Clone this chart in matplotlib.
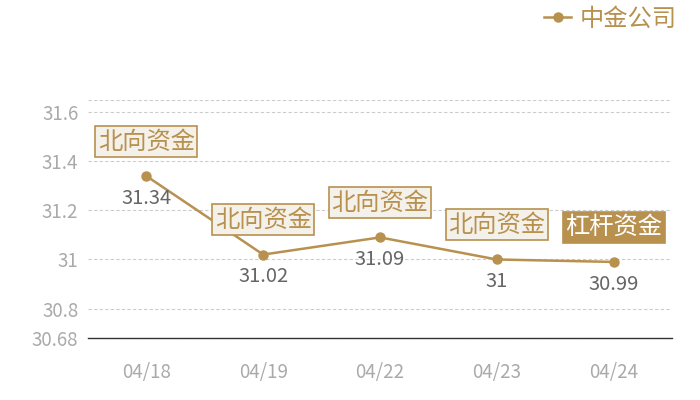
import matplotlib
matplotlib.use("Agg")
import matplotlib.pyplot as plt

plt.rcParams['font.family'] = ['Noto Sans CJK SC', 'DejaVu Sans']

dates = ["04/18", "04/19", "04/22", "04/23", "04/24"]
values = [31.34, 31.02, 31.09, 31.00, 30.99]
tags = ["北向资金", "北向资金", "北向资金", "北向资金", "杠杆资金"]
yticks = [30.68, 30.8, 31, 31.2, 31.4, 31.6]
ytick_labels = ["30.68", "30.8", "31", "31.2", "31.4", "31.6"]

gold = "#b8914f"

fig = plt.figure(figsize=(7, 4), dpi=100)
ax = fig.add_axes([88 / 700, 1 - 338 / 400, (672 - 88) / 700, (338 - 100) / 400])

x = range(len(dates))
ax.plot(x, values, color=gold, lw=1.8, marker="o", ms=6.5, label="中金公司", zorder=3)

for i, (v, t) in enumerate(zip(values, tags)):
    ax.annotate(f"{v:g}", (i, v), xytext=(0, -16), textcoords="offset points",
                ha="center", va="center", fontsize=14.5, color="#666666", zorder=4)
    if t == "杠杆资金":
        fc, tc, ec = gold, "white", gold
    else:
        fc, tc, ec = "#f4f0ea", gold, gold
    ax.annotate(t, (i, v), xytext=(0, 25), textcoords="offset points",
                ha="center", va="center", fontsize=17.5, color=tc, zorder=5,
                bbox=dict(boxstyle="square,pad=0.1", fc=fc, ec=ec, lw=1.2))

ax.set_xlim(-0.5, len(dates) - 0.5)
ax.set_ylim(30.68, 31.65)
ax.set_xticks(list(x))
ax.set_xticklabels(dates)
ax.set_yticks(yticks)
ax.set_yticklabels(ytick_labels)
ax.tick_params(axis="both", length=0, labelsize=13.5, labelcolor="#aaaaaa")
ax.tick_params(axis="x", pad=17)
ax.tick_params(axis="y", pad=7)

ax.grid(axis="y", color="#cccccc", ls=(0, (3, 2)), lw=0.8)
ax.axhline(31.65, color="#cccccc", ls=(0, (3, 2)), lw=0.8)
for s in ["top", "right", "left"]:
    ax.spines[s].set_visible(False)
ax.spines["bottom"].set_color("#333333")
ax.spines["bottom"].set_linewidth(1.0)

leg = fig.legend(loc="upper right", bbox_to_anchor=(0.998, 1.04), frameon=False,
                 fontsize=17.5, handlelength=1.1, handletextpad=0.35)
for txt in leg.get_texts():
    txt.set_color(gold)

fig.savefig("out.png", dpi=100)
